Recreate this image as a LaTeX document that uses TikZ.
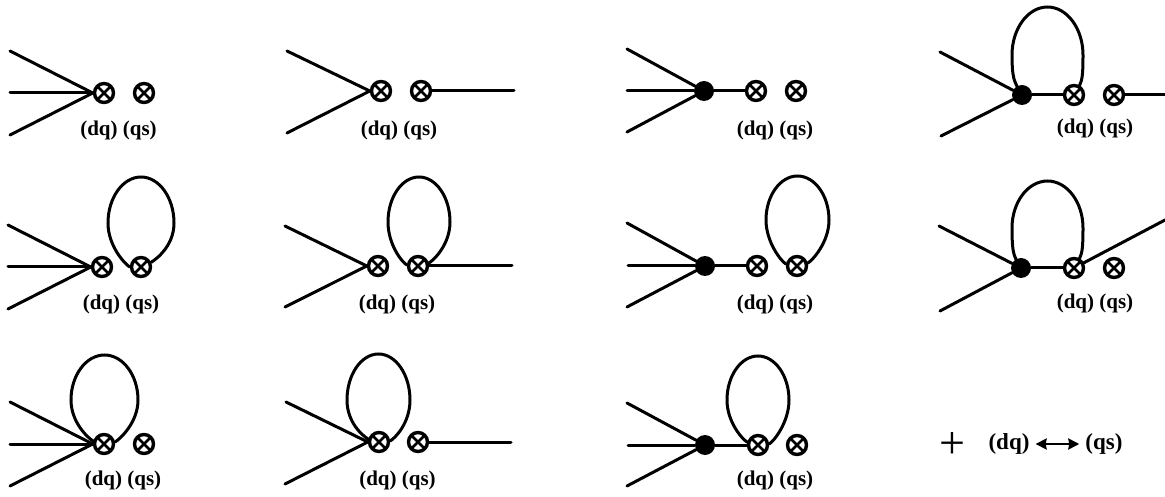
\documentclass[tikz,border=0pt]{standalone}
\usepackage{fontspec}
\setmainfont{Liberation Serif}
\usetikzlibrary{arrows.meta,calc}
\tikzset{
  line/.style={line width=3pt,line cap=round},
  xnode/.style={circle,draw,line width=3.4pt,fill=white,minimum size=19pt,inner sep=0pt,
    path picture={\draw[line width=2.8pt] (path picture bounding box.south west)--(path picture bounding box.north east)
      (path picture bounding box.north west)--(path picture bounding box.south east);}},
  dotnode/.style={circle,fill=black,minimum size=20pt,inner sep=0pt},
  lab/.style={font=\fontsize{21}{23}\selectfont\bfseries,inner sep=0pt},
  legendlab/.style={font=\fontsize{23}{25}\selectfont\bfseries,inner sep=6pt},
}
% start, end, xL, xR, ytop, ymid, offset at start, offset at end
\newcommand\eggloop[8]{%
  \pgfmathsetmacro\eggC{(#3+#4)/2}%
  \pgfmathsetmacro\eggRx{(#4-#3)/2*0.55}%
  \pgfmathsetmacro\eggRy{(#6-#5)*0.55}%
  \pgfmathsetmacro\eggRb{(#6-#5)*0.5}%
  \draw[line] (#1) .. controls ($(#1)+(#7)$) and (#3,#6+\eggRb) .. (#3,#6)
    .. controls (#3,#6-\eggRy) and (\eggC-\eggRx,#5) .. (\eggC,#5)
    .. controls (\eggC+\eggRx,#5) and (#4,#6-\eggRy) .. (#4,#6)
    .. controls (#4,#6+\eggRb) and ($(#2)+(#8)$) .. (#2);}
\begin{document}
\begin{tikzpicture}[x=1pt,y=-1pt]
\useasboundingbox (0,0) rectangle (1165,497);
% ---- row 1
\node[xnode] (xa1) at (104,93) {}; \node[xnode] (xa2) at (144,93) {};
\coordinate (a1) at (10,51); \coordinate (a2) at (10,93); \coordinate (a3) at (10,135);
\draw[line] (a1)--(xa1.west); \draw[line] (a2)--(xa1.west); \draw[line] (a3)--(xa1.west);
\node[lab] (la) at (118.5,130) {(dq) (qs)};

\node[xnode] (xb1) at (381,91) {}; \node[xnode] (xb2) at (421,91) {};
\coordinate (b1) at (287,51); \coordinate (b3) at (287,133); \coordinate (be) at (514,91);
\draw[line] (b1)--(xb1.west); \draw[line] (b3)--(xb1.west); \draw[line] (xb2)--(be);
\node[lab] (lb) at (399,130) {(dq) (qs)};

\node[dotnode] (dc) at (704,91) {}; \node[xnode] (xc1) at (756,91) {}; \node[xnode] (xc2) at (796,91) {};
\coordinate (c1) at (627,49); \coordinate (c2) at (627,91); \coordinate (c3) at (627,132);
\draw[line] (c1)--(dc); \draw[line] (c2)--(dc); \draw[line] (c3)--(dc); \draw[line] (dc)--(xc1);
\node[lab] (lc) at (775,130) {(dq) (qs)};

\node[dotnode] (dd) at (1022,95) {}; \node[xnode] (xd1) at (1074,95) {}; \node[xnode] (xd2) at (1114,95) {};
\coordinate (d1) at (940,52); \coordinate (d3) at (941,136); \coordinate (de) at (1165,95);
\draw[line] (d1)--(dd); \draw[line] (d3)--(dd); \draw[line] (dd)--(xd1); \draw[line] (xd2)--(de);
\eggloop{dd.120}{xd1.60}{1012}{1083}{7}{55}{-2,-5}{2,-5}
\node[lab] (ld) at (1095,128) {(dq) (qs)};
% ---- row 2
\node[xnode] (xe1) at (102,267) {}; \node[xnode] (xe2) at (141,267) {};
\coordinate (e1) at (8,225); \coordinate (e2) at (8,267); \coordinate (e3) at (8,309);
\draw[line] (e1)--(xe1.west); \draw[line] (e2)--(xe1.west); \draw[line] (e3)--(xe1.west);
\eggloop{xe2.180}{xe2.25}{108}{174}{177}{223}{-5,-3}{5,-3}
\node[lab] (le) at (121,304) {(dq) (qs)};

\node[xnode] (xf1) at (378,266) {}; \node[xnode] (xf2) at (418,266) {};
\coordinate (f1) at (285,226); \coordinate (f3) at (285,307); \coordinate (fe) at (512,266);
\draw[line] (f1)--(xf1.west); \draw[line] (f3)--(xf1.west); \draw[line] (xf2)--(fe);
\eggloop{xf2.175}{xf2.15}{388}{450}{177}{222}{-5,-3}{5,-3}
\node[lab] (lf) at (397,304) {(dq) (qs)};

\node[dotnode] (dg) at (705,266) {}; \node[xnode] (xg1) at (757,266) {}; \node[xnode] (xg2) at (797,266) {};
\coordinate (g1) at (627,223); \coordinate (g2) at (628,266); \coordinate (g3) at (627,307);
\draw[line] (g1)--(dg); \draw[line] (g2)--(dg); \draw[line] (g3)--(dg); \draw[line] (dg)--(xg1);
\eggloop{xg2.170}{xg2.15}{766}{829}{176}{220}{-5,-3}{5,-3}
\node[lab] (lg) at (775,304) {(dq) (qs)};

\node[dotnode] (dh) at (1021,268) {}; \node[xnode] (xh1) at (1074,268) {}; \node[xnode] (xh2) at (1114,268) {};
\coordinate (h1) at (939,226); \coordinate (h3) at (940,311); \coordinate (he) at (1165,220);
\draw[line] (h1)--(dh); \draw[line] (h3)--(dh); \draw[line] (dh)--(xh1); \draw[line] (xh1)--(he);
\eggloop{dh.120}{xh1.60}{1012}{1083}{181}{228}{-2,-5}{2,-5}
\node[lab] (lh) at (1095,303) {(dq) (qs)};
% ---- row 3
\node[xnode] (xi1) at (104,444) {}; \node[xnode] (xi2) at (144,444) {};
\coordinate (i1) at (10,402); \coordinate (i2) at (10,444); \coordinate (i3) at (10,486);
\draw[line] (i1)--(xi1.west); \draw[line] (i2)--(xi1.west); \draw[line] (i3)--(xi1.west);
\eggloop{xi1.165}{xi1.10}{71}{138}{355}{400}{-5,-3}{5,-3}
\node[lab] (li) at (123,480) {(dq) (qs)};

\node[xnode] (xj1) at (379,442) {}; \node[xnode] (xj2) at (418,442) {};
\coordinate (j1) at (286,402); \coordinate (j3) at (285,484); \coordinate (je) at (511,442);
\draw[line] (j1)--(xj1.west); \draw[line] (j3)--(xj1.west); \draw[line] (xj2)--(je);
\eggloop{xj1.165}{xj1.5}{347}{410}{354}{400}{-5,-3}{5,-3}
\node[lab] (lj) at (397.5,480) {(dq) (qs)};

\node[dotnode] (dk) at (705,445) {}; \node[xnode] (xk1) at (758,445) {}; \node[xnode] (xk2) at (797,445) {};
\coordinate (k1) at (627,403); \coordinate (k2) at (628,445); \coordinate (k3) at (627,486);
\draw[line] (k1)--(dk); \draw[line] (k2)--(dk); \draw[line] (k3)--(dk); \draw[line] (dk)--(xk1);
\eggloop{xk1.165}{xk1.5}{727}{789}{356}{400}{-5,-3}{5,-3}
\node[lab] (lk) at (775,480) {(dq) (qs)};
% ---- legend
\node[inner sep=0pt,font=\fontsize{46}{48}\selectfont] (plus) at (952,446) {+};
\node[legendlab] (sd) at (1009,444) {(dq)};
\node[legendlab] (sq) at (1104,444) {(qs)};
\draw[line width=2.6pt,{Stealth[length=11pt,width=11pt,inset=1pt]}-{Stealth[length=11pt,width=11pt,inset=1pt]}] (sd.east)--(sq.west);
\end{tikzpicture}
\end{document}
